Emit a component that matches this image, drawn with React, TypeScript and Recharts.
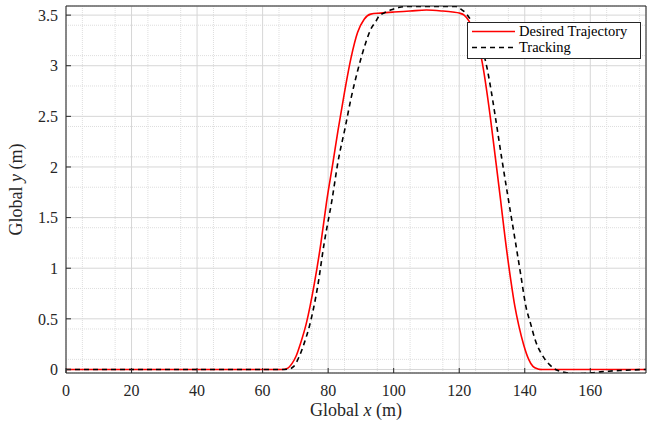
import React from 'react';
import { LineChart, Line, XAxis, YAxis, CartesianGrid } from 'recharts';

const desiredX = [0, 30, 60, 66, 67.5, 69, 70.2, 71.5, 73.3, 75.8, 77.8, 79.5, 81.5, 83, 85, 87, 89, 91, 93, 96, 100, 105, 110, 115, 118, 120, 121.5, 123, 124.5, 126.8, 129.5, 131, 132.6, 134, 135.7, 137, 138.2, 139.7, 141.2, 142.5, 144, 145, 160, 177];
const desiredY = [0, 0, 0, 0, 0.01, 0.06, 0.13, 0.25, 0.45, 0.85, 1.25, 1.65, 2.05, 2.36, 2.74, 3.08, 3.33, 3.46, 3.51, 3.52, 3.53, 3.54, 3.55, 3.54, 3.53, 3.52, 3.5, 3.44, 3.33, 3.07, 2.49, 2.1, 1.68, 1.3, 0.89, 0.62, 0.43, 0.24, 0.1, 0.03, 0.005, 0, 0, 0];

const trackingX = [0, 30, 60, 66, 68, 69.5, 71.2, 72.8, 74.3, 76.8, 78.8, 81.2, 83, 85.2, 87, 89, 91.5, 93, 94.6, 95.5, 97, 99, 101.5, 104, 110, 115, 119, 120.5, 122, 123.5, 125, 126.5, 128, 129.5, 131, 133, 135, 137.2, 138.8, 140.3, 141.8, 143.3, 145, 146.4, 147.5, 149.4, 151.4, 153.5, 155.4, 158, 160.5, 163, 165.6, 169, 172.6, 177];
const trackingY = [0, 0, 0, 0, 0.005, 0.03, 0.13, 0.27, 0.43, 0.82, 1.25, 1.68, 2.05, 2.39, 2.68, 2.95, 3.23, 3.36, 3.44, 3.49, 3.52, 3.55, 3.575, 3.585, 3.586, 3.586, 3.585, 3.56, 3.52, 3.45, 3.33, 3.2, 3.05, 2.8, 2.5, 2.08, 1.68, 1.25, 0.93, 0.63, 0.45, 0.28, 0.16, 0.09, 0.05, 0, -0.023, -0.038, -0.043, -0.04, -0.033, -0.024, -0.017, -0.01, -0.005, 0];

const xTicks = [0, 20, 40, 60, 80, 100, 120, 140, 160];
const yTicks = [0, 0.5, 1, 1.5, 2, 2.5, 3, 3.5];
const xMinorTicks = [5, 10, 15, 25, 30, 35, 45, 50, 55, 65, 70, 75, 85, 90, 95, 105, 110, 115, 125, 130, 135, 145, 150, 155, 165, 170, 175];
const yMinorTicks = [0.1, 0.2, 0.3, 0.4, 0.6, 0.7, 0.8, 0.9, 1.1, 1.2, 1.3, 1.4, 1.6, 1.7, 1.8, 1.9, 2.1, 2.2, 2.3, 2.4, 2.6, 2.7, 2.8, 2.9, 3.1, 3.2, 3.3, 3.4];

const seriesNames = ['Desired Trajectory', 'Tracking'];
const xLabel = ['Global ', 'x', ' (m)'];
const yLabel = ['Global ', 'y', ' (m)'];

const desiredData = desiredX.map((x, i) => ({ x, y: desiredY[i] }));
const trackingData = trackingX.map((x, i) => ({ x, y: trackingY[i] }));

const FONT = "'Liberation Serif', 'Times New Roman', Times, serif";
const AXIS_COLOR = '#262626';

const tickStyle = { fontFamily: FONT, fontSize: 16, fill: AXIS_COLOR };

const XTitle = (props: any) => {
  const vb = props.viewBox || {};
  const cx = vb.x + vb.width / 2;
  return (
    <text x={cx} y={416} textAnchor="middle" style={{ fontFamily: FONT }} fontSize={18} fill={AXIS_COLOR}>
      <tspan>{xLabel[0]}</tspan>
      <tspan fontStyle="italic">{xLabel[1]}</tspan>
      <tspan>{xLabel[2]}</tspan>
    </text>
  );
};

const YTitle = (props: any) => {
  const vb = props.viewBox || {};
  const cy = vb.y + vb.height / 2;
  return (
    <text x={22} y={cy} textAnchor="middle" style={{ fontFamily: FONT }} fontSize={18} fill={AXIS_COLOR} transform={`rotate(-90 22 ${cy})`}>
      <tspan>{yLabel[0]}</tspan>
      <tspan fontStyle="italic">{yLabel[1]}</tspan>
      <tspan>{yLabel[2]}</tspan>
    </text>
  );
};

export default function App() {
  return (
    <div style={{ position: 'absolute', left: 0, top: 0, width: 664, height: 425, background: '#fff', fontFamily: FONT }}>
      <LineChart width={664} height={425} margin={{ top: 5, right: 17, bottom: 0, left: 0 }} style={{ fontFamily: FONT }}>
        <XAxis xAxisId="minor" type="number" dataKey="x" domain={[0, 177]} ticks={xMinorTicks} allowDataOverflow hide />
        <YAxis yAxisId="minor" type="number" dataKey="y" domain={[-0.035, 3.59]} ticks={yMinorTicks} allowDataOverflow hide />
        <CartesianGrid xAxisId="minor" yAxisId="minor" stroke="#dedede" strokeDasharray="1 1" />
        <CartesianGrid xAxisId="b" yAxisId="l" stroke="#d6d6d6" />
        <XAxis
          xAxisId="b"
          type="number"
          dataKey="x"
          domain={[0, 177]}
          ticks={xTicks}
          allowDataOverflow
          height={52}
          tickSize={-5}
          tickMargin={17}
          stroke={AXIS_COLOR}
          tick={tickStyle}
          interval={0}
          label={{ content: <XTitle /> }}
        />
        <XAxis
          xAxisId="t"
          orientation="top"
          type="number"
          dataKey="x"
          domain={[0, 177]}
          ticks={xTicks}
          allowDataOverflow
          height={1}
          tickSize={-5}
          stroke={AXIS_COLOR}
          tick={false}
          interval={0}
        />
        <YAxis
          yAxisId="l"
          type="number"
          dataKey="y"
          domain={[-0.035, 3.59]}
          ticks={yTicks}
          allowDataOverflow
          width={66}
          tickSize={-5}
          tickMargin={13}
          stroke={AXIS_COLOR}
          tick={tickStyle}
          interval={0}
          label={{ content: <YTitle /> }}
        />
        <YAxis
          yAxisId="r"
          orientation="right"
          type="number"
          dataKey="y"
          domain={[-0.035, 3.59]}
          ticks={yTicks}
          allowDataOverflow
          width={1}
          tickSize={-5}
          stroke={AXIS_COLOR}
          tick={false}
          interval={0}
        />
        <Line
          xAxisId="b"
          yAxisId="l"
          data={desiredData}
          dataKey="y"
          name={seriesNames[0]}
          type="monotone"
          stroke="#ff0000"
          strokeWidth={1.6}
          dot={false}
          isAnimationActive={false}
        />
        <Line
          xAxisId="b"
          yAxisId="l"
          data={trackingData}
          dataKey="y"
          name={seriesNames[1]}
          type="monotone"
          stroke="#000000"
          strokeWidth={1.6}
          strokeDasharray="5 4"
          dot={false}
          isAnimationActive={false}
        />
      </LineChart>
      <div
        style={{
          position: 'absolute',
          left: 467,
          top: 22,
          width: 172,
          height: 35,
          border: `1px solid ${AXIS_COLOR}`,
          background: '#fff',
          fontFamily: FONT,
          fontSize: 14.5,
          color: '#000',
        }}
      >
        {seriesNames.map((name, i) => (
          <div key={name} style={{ position: 'absolute', left: 0, top: i === 0 ? 0 : 16, height: 17, display: 'flex', alignItems: 'center' }}>
            <svg width={51} height={17} style={{ display: 'block' }}>
              <line
                x1={4}
                x2={47}
                y1={8.5}
                y2={8.5}
                stroke={i === 0 ? '#ff0000' : '#000'}
                strokeWidth={1.6}
                strokeDasharray={i === 0 ? undefined : '5 4'}
              />
            </svg>
            <span style={{ whiteSpace: 'nowrap', lineHeight: '17px', fontFamily: FONT }}>{name}</span>
          </div>
        ))}
      </div>
    </div>
  );
}
